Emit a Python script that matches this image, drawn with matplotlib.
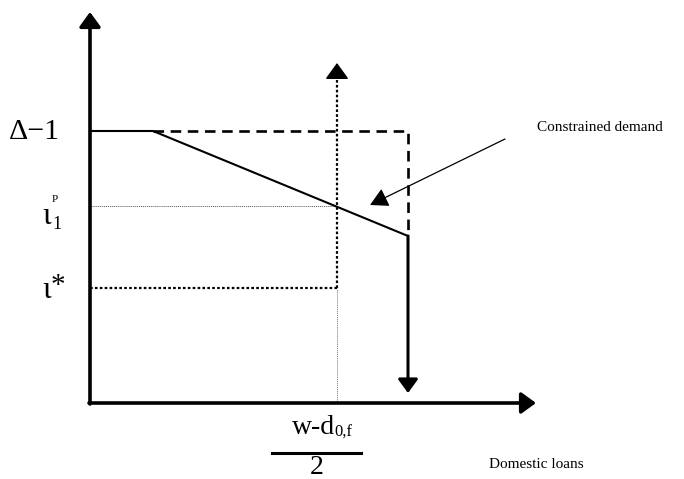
import matplotlib
matplotlib.use("Agg")
import matplotlib.pyplot as plt

# schematic levels (offsets from the origin, in pixel-like units)
x_axis_end = 446
y_axis_end = 391
x_kink = 63
x_mid = 247
x_cap = 318
y_top = 272
y_p1 = 197
y_star = 115
y_end = 167
y_drop = 10
y_mid_arrow = 340

demand_x = [0, x_kink, x_cap]
demand_y = [y_top, y_top, y_end]
ceiling_x = [x_kink, x_cap, x_cap]
ceiling_y = [y_top, y_top, y_end]

plt.rcParams["font.family"] = ["Liberation Serif", "DejaVu Serif"]

fig = plt.figure(figsize=(6.84, 4.79), dpi=100)
ax = fig.add_axes([0, 0, 1, 1])
ax.set_xlim(-90, 594)
ax.set_ylim(-76, 403)
ax.axis("off")

arrow = dict(arrowstyle="-|>,head_length=1.1,head_width=0.8", color="black", lw=2.6,
             shrinkA=0, shrinkB=0, mutation_scale=8)

# axes
ax.annotate("", xy=(0, y_axis_end), xytext=(0, -1), arrowprops=arrow)
ax.annotate("", xy=(x_axis_end, 0), xytext=(-1, 0), arrowprops=arrow)

# reference levels
ax.plot([0, x_mid], [y_p1, y_p1], color="#555555", lw=0.7, ls=(0, (1, 1)))
ax.plot([0, x_mid], [y_star, y_star], color="black", lw=1.6, ls=(0, (1.2, 1)))
ax.plot([x_mid, x_mid], [0, y_star], color="#777777", lw=0.7, ls=(0, (1, 1)))
ax.plot([x_mid, x_mid], [y_star, y_mid_arrow - 8], color="black", lw=1.6, ls=(0, (1.2, 1)))
ax.annotate("", xy=(x_mid, y_mid_arrow), xytext=(x_mid, y_mid_arrow - 10),
            arrowprops=dict(arrow, lw=1.2, mutation_scale=9))

# demand schedules
ax.plot(ceiling_x, ceiling_y, color="black", lw=1.9, ls=(0, (4, 2.5)))
ax.plot(demand_x, demand_y, color="black", lw=1.5)
ax.annotate("", xy=(x_cap, y_drop), xytext=(x_cap, y_end),
            arrowprops=dict(arrow, lw=2.2, mutation_scale=7.5))

# annotation
ax.annotate("", xy=(280, y_p1 + 1), xytext=(415, 264),
            arrowprops=dict(arrowstyle="-|>,head_length=1.1,head_width=0.6",
                            color="black", lw=0.9, shrinkA=0, shrinkB=0,
                            mutation_scale=10))
ax.text(447, 276, "Constrained demand", fontsize=11, va="center", ha="left")

# tick-like labels
ax.text(-30, y_top - 1, "Δ−1", fontsize=21.5, ha="right", va="center")
ax.text(-39, y_p1 - 10, "ι", fontsize=23, ha="right", va="center")
ax.text(-38, y_p1 + 7, "P", fontsize=8, ha="left", va="center")
ax.text(-38, y_p1 - 18, "1", fontsize=13, ha="left", va="center")
ax.text(-39, y_star - 3, "ι", fontsize=23, ha="right", va="center")
ax.text(-39, y_star + 2, "*", fontsize=21, ha="left", va="center")

# x label
ax.text(x_mid - 2, -24, "w-d", fontsize=20, ha="right", va="center")
ax.text(x_mid - 3, -30, "0,f", fontsize=12, ha="left", va="center")
ax.plot([x_mid - 65, x_mid + 24], [-50, -50], color="black", lw=2.2)
ax.text(x_mid - 20, -65, "2", fontsize=20, ha="center", va="center")
ax.text(399, -62, "Domestic loans", fontsize=11, ha="left", va="center")

fig.savefig("out.png", dpi=100)
